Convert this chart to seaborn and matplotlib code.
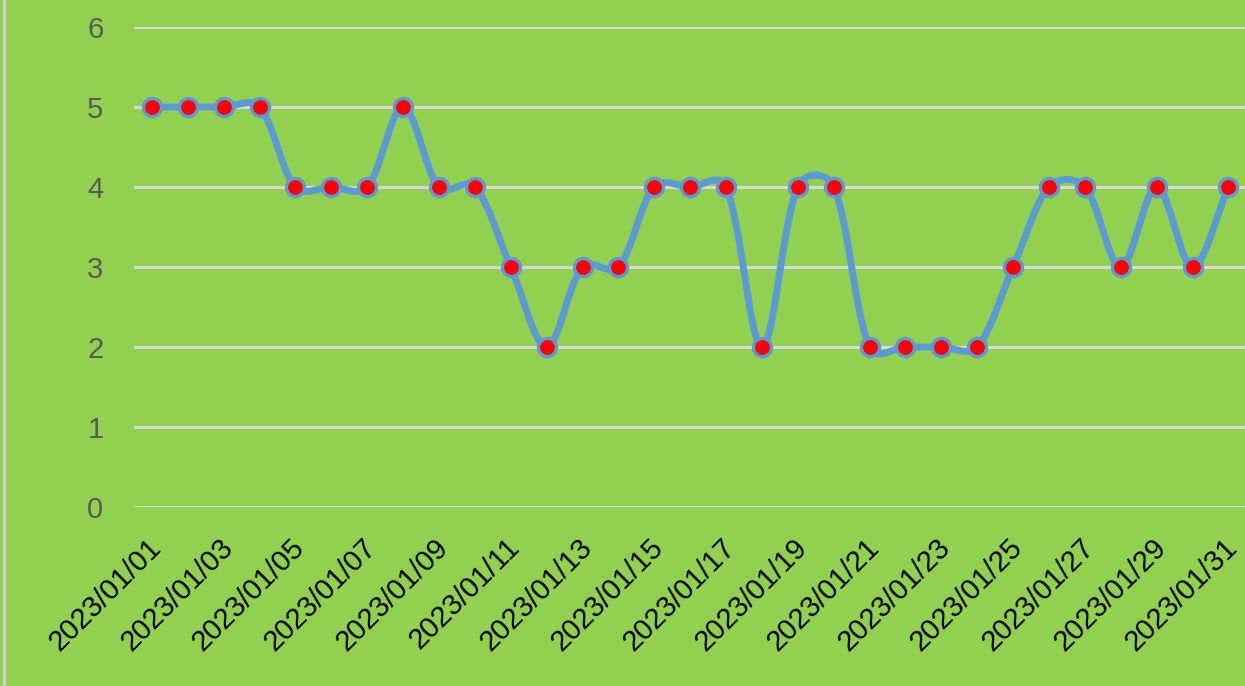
import numpy as np
import pandas as pd
import seaborn as sns
import matplotlib.pyplot as plt
from matplotlib.lines import Line2D
from matplotlib.transforms import ScaledTranslation

# daily values
dates = pd.date_range("2023-01-01", "2023-01-31", freq="D").strftime("%Y/%m/%d").tolist()
values = [5, 5, 5, 5, 4, 4, 4, 5, 4, 4,
          3, 2, 3, 3, 4, 4, 4, 2, 4, 4,
          2, 2, 2, 2, 3, 4, 4, 3, 4, 3, 4]

bg = "#92D050"
line_col = "#5B9BD5"
grid_col = "#D9D9D9"

df = pd.DataFrame({"date": dates, "value": values})
df["pos"] = np.arange(len(df))

# excel style smoothed line: bezier, tangents damped by screen segment length
def smooth(x, y, sx=36.0, sy=80.0, n=30):
    P = np.column_stack([np.asarray(x, float) * sx, np.asarray(y, float) * sy])
    m = len(P)
    xs, ys = [], []
    t = np.linspace(0, 1, n)[:, None]
    for i in range(m - 1):
        p0, p3 = P[i], P[i + 1]
        d = np.linalg.norm(p3 - p0)
        if i == 0:
            c1 = p0 + (p3 - p0) / 3
        else:
            dp = np.linalg.norm(p0 - P[i - 1])
            c1 = p0 + (p3 - P[i - 1]) / 6 * np.sqrt(2 * d / (dp + d))
        if i + 1 == m - 1:
            c2 = p3 - (p3 - p0) / 3
        else:
            dn = np.linalg.norm(P[i + 2] - p3)
            c2 = p3 - (P[i + 2] - p0) / 6 * np.sqrt(2 * d / (dn + d))
        b = (1 - t) ** 3 * p0 + 3 * (1 - t) ** 2 * t * c1 + 3 * (1 - t) * t ** 2 * c2 + t ** 3 * p3
        xs.append(b[:, 0] / sx)
        ys.append(b[:, 1] / sy)
    return np.concatenate(xs), np.concatenate(ys)

cx, cy = smooth(df["pos"], df["value"])
curve = pd.DataFrame({"x": cx, "y": cy})

sns.set_theme(style="white")
plt.rcParams["font.family"] = ["Liberation Sans", "DejaVu Sans"]

fig = plt.figure(figsize=(12.45, 6.86), dpi=100, facecolor=bg)
ax = fig.add_axes([0.1076, 0.261, 0.8935, 0.6996])
ax.set_facecolor(bg)

for v in range(0, 7):
    ax.axhline(v, color=grid_col, lw=2.2, zorder=1)

sns.lineplot(data=curve, x="x", y="y", sort=False, estimator=None,
             color=line_col, lw=5, ax=ax, zorder=2)
sns.scatterplot(data=df, x="pos", y="value", color="red", s=170,
                edgecolor=line_col, linewidth=2.4, ax=ax, zorder=3)

ax.set_xlim(-0.5, len(df) - 0.5)
ax.set_ylim(0, 6)
ax.set_yticks(range(0, 7))
ax.set_yticklabels([str(v) for v in range(0, 7)], color="#595959", fontsize=21)
ax.set_xticks(df["pos"][::2])
ax.set_xticklabels(df["date"][::2], rotation=45, ha="right",
                   rotation_mode="anchor", fontsize=21, color="black")
ax.tick_params(axis="x", length=0, pad=19)
ax.tick_params(axis="y", length=0, pad=22)
shift = ScaledTranslation(-5 / 100, 0, fig.dpi_scale_trans)
for lab in ax.get_xticklabels():
    lab.set_transform(lab.get_transform() + shift)
ax.set_xlabel("")
ax.set_ylabel("")
for s in ax.spines.values():
    s.set_visible(False)

# light frame edge on the left
fig.add_artist(Line2D([0.0035, 0.0035], [0, 1], transform=fig.transFigure,
                      color="#D0D0D0", lw=2.5))

fig.savefig("out.png", dpi=100, facecolor=bg)
